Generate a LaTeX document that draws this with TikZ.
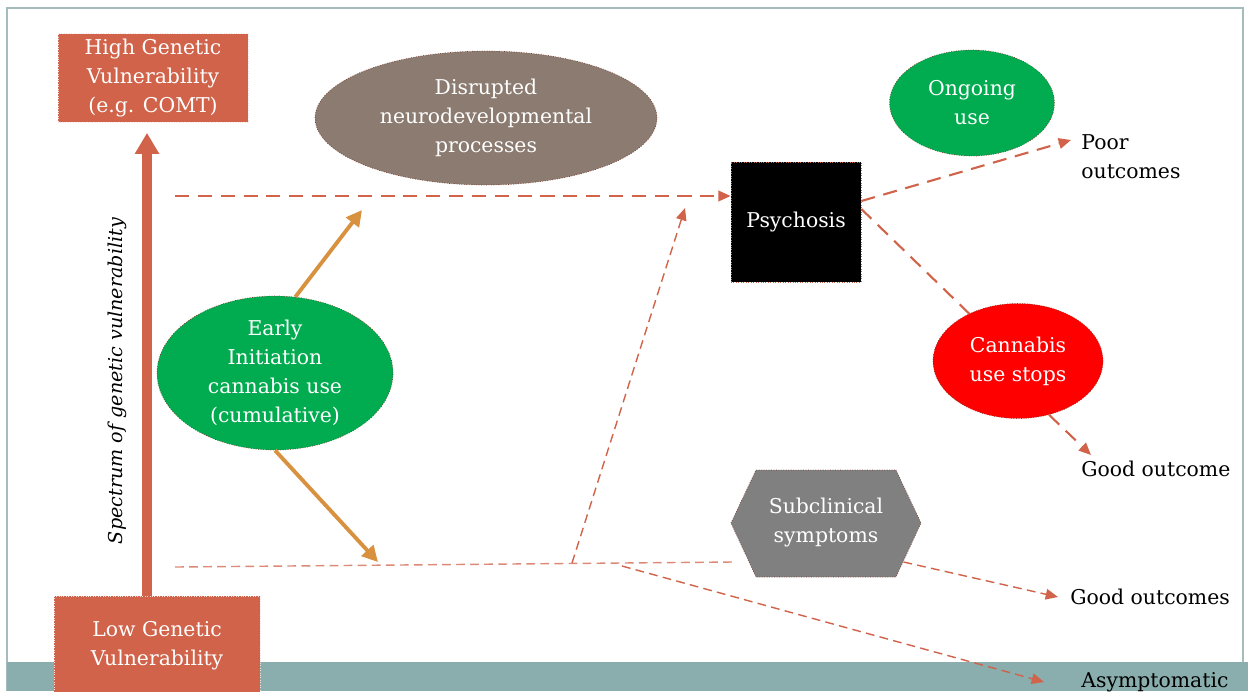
\documentclass[tikz,border=0pt]{standalone}
\usepackage{fontspec}
\setmainfont{DejaVu Serif}
\usetikzlibrary{arrows.meta,shapes.geometric,positioning}

\definecolor{coral}{RGB}{208,99,74}
\definecolor{mudbrown}{RGB}{139,123,112}
\definecolor{leafgreen}{RGB}{0,172,79}
\definecolor{hexgray}{RGB}{128,128,128}
\definecolor{pushorange}{RGB}{216,145,62}
\definecolor{bandteal}{RGB}{138,173,173}
\definecolor{framegray}{RGB}{165,188,188}

\begin{document}
\begin{tikzpicture}[x=0.02cm,y=-0.02cm,
    every node/.style={font=\fontsize{11.6}{16.5}\selectfont},
    genebox/.style={rectangle,fill=coral,draw=white!80!coral,densely dotted,thin,
        text=white,align=center,inner sep=0pt},
    blob/.style={ellipse,draw=coral!60!black,densely dotted,thin,text=white,
        align=center,inner sep=0pt},
    outcome/.style={anchor=west,align=left,inner sep=0pt,text=black},
    flow/.style={draw=coral,dash pattern=on 8pt off 5pt,line width=1.2pt,
        -{Triangle[length=7pt,width=6pt]}},
    thinflow/.style={draw=coral,dash pattern=on 5pt off 3pt,line width=0.8pt},
    push/.style={draw=pushorange,line width=2.2pt,-{Triangle[length=9pt,width=9pt]}},
    spine/.style={draw=coral,line width=5.5pt,-{Triangle[length=0.42cm,width=0.46cm]}}]

    \path[use as bounding box,clip] (0,0) rectangle (1248,691);

    % slide frame and footer band
    \draw[framegray,line width=0.8pt] (7,691) -- (7,8) -- (1243,8) -- (1243,691);
    \fill[bandteal] (7,662) rectangle (1248,691);

    % genetic spectrum
    \node[genebox,minimum width=3.8cm,minimum height=1.78cm] (highgen) at (153,78)
        {High Genetic\\Vulnerability\\(e.g. COMT)};
    \node[genebox,minimum width=4.12cm,minimum height=2.0cm] (lowgen) at (157,646)
        {Low Genetic\\Vulnerability};
    \draw[spine] ([xshift=-0.2cm]lowgen.north) -- ([xshift=-0.2cm,yshift=-0.2cm]lowgen.north |- highgen.south);
    \node[rotate=90,font=\fontsize{10.9}{15}\selectfont\itshape] (spectrum) at (117,381)
        {Spectrum of genetic vulnerability};

    % main states
    \node[blob,fill=mudbrown,minimum width=6.84cm,minimum height=2.68cm] (disrupt) at (486,118)
        {Disrupted\\neurodevelopmental\\processes};
    \node[blob,fill=leafgreen,minimum width=4.72cm,minimum height=3.08cm] (early) at (275,373)
        {Early\\Initiation\\cannabis use\\(cumulative)};
    \node[blob,fill=leafgreen,minimum width=3.3cm,minimum height=2.12cm] (ongoing) at (972,103)
        {Ongoing\\use};
    \node[rectangle,fill=black,draw=coral,densely dotted,thin,text=white,
        minimum width=2.6cm,minimum height=2.4cm] (psy) at (796,222) {Psychosis};
    \node[blob,fill=red,minimum width=3.4cm,minimum height=2.3cm] (cstop) at (1018,361)
        {Cannabis\\use stops};

    % subclinical hexagon
    \coordinate (hexc) at (826,523);
    \filldraw[fill=hexgray,draw=coral!60!black,densely dotted,thin]
        (hexc) ++(-95,0) -- ++(25,-53) -- ++(140,0) -- ++(25,53) -- ++(-25,54) -- ++(-140,0) -- cycle;
    \node[text=white,align=center] (subclin) at (hexc) {Subclinical\\symptoms};

    % outcomes
    \node[outcome] (poor) at (1081,157) {Poor\\outcomes};
    \node[outcome] (goodone) at (1081,469) {Good outcome};
    \node[outcome] (goodmany) at (1070,597) {Good outcomes};
    \node[outcome] (asym) at (1081,682) {Asymptomatic};

    % free ends of the dashed tracks
    \coordinate (highL) at (175,196);
    \coordinate (lowL) at (175,567);
    \coordinate (lowR) at (733,562);
    \coordinate (riseA) at (572,563);
    \coordinate (fallA) at (622,566);
    \coordinate (toptip) at (362,210);
    \coordinate (bottip) at (378,562);

    \draw[flow] (highL) -- (highL -| psy.west);
    \draw[thinflow,draw=coral!75] (lowL) -- (lowR);
    \draw[thinflow,-{Triangle[length=7pt,width=6pt]}] (riseA) -- (685,208);
    \draw[thinflow,-{Triangle[length=7pt,width=6pt]}] (fallA) -- ([xshift=-0.74cm]asym.west);
    \draw[thinflow,-{Triangle[length=7pt,width=6pt]}] ([xshift=1.55cm,yshift=-0.78cm]hexc) -- ([xshift=-0.24cm]goodmany.west);

    \draw[push] (early.75) -- (toptip);
    \draw[push] (early.south) -- (bottip);

    \draw[flow] ([yshift=0.42cm]psy.east) -- ([xshift=-0.2cm,yshift=0.34cm]poor.west);
    \draw[flow,-] ([yshift=0.26cm]psy.east) -- (cstop);
    \draw[flow] (cstop.300) -- ([xshift=0.2cm,yshift=0.28cm]goodone.west);
\end{tikzpicture}
\end{document}
